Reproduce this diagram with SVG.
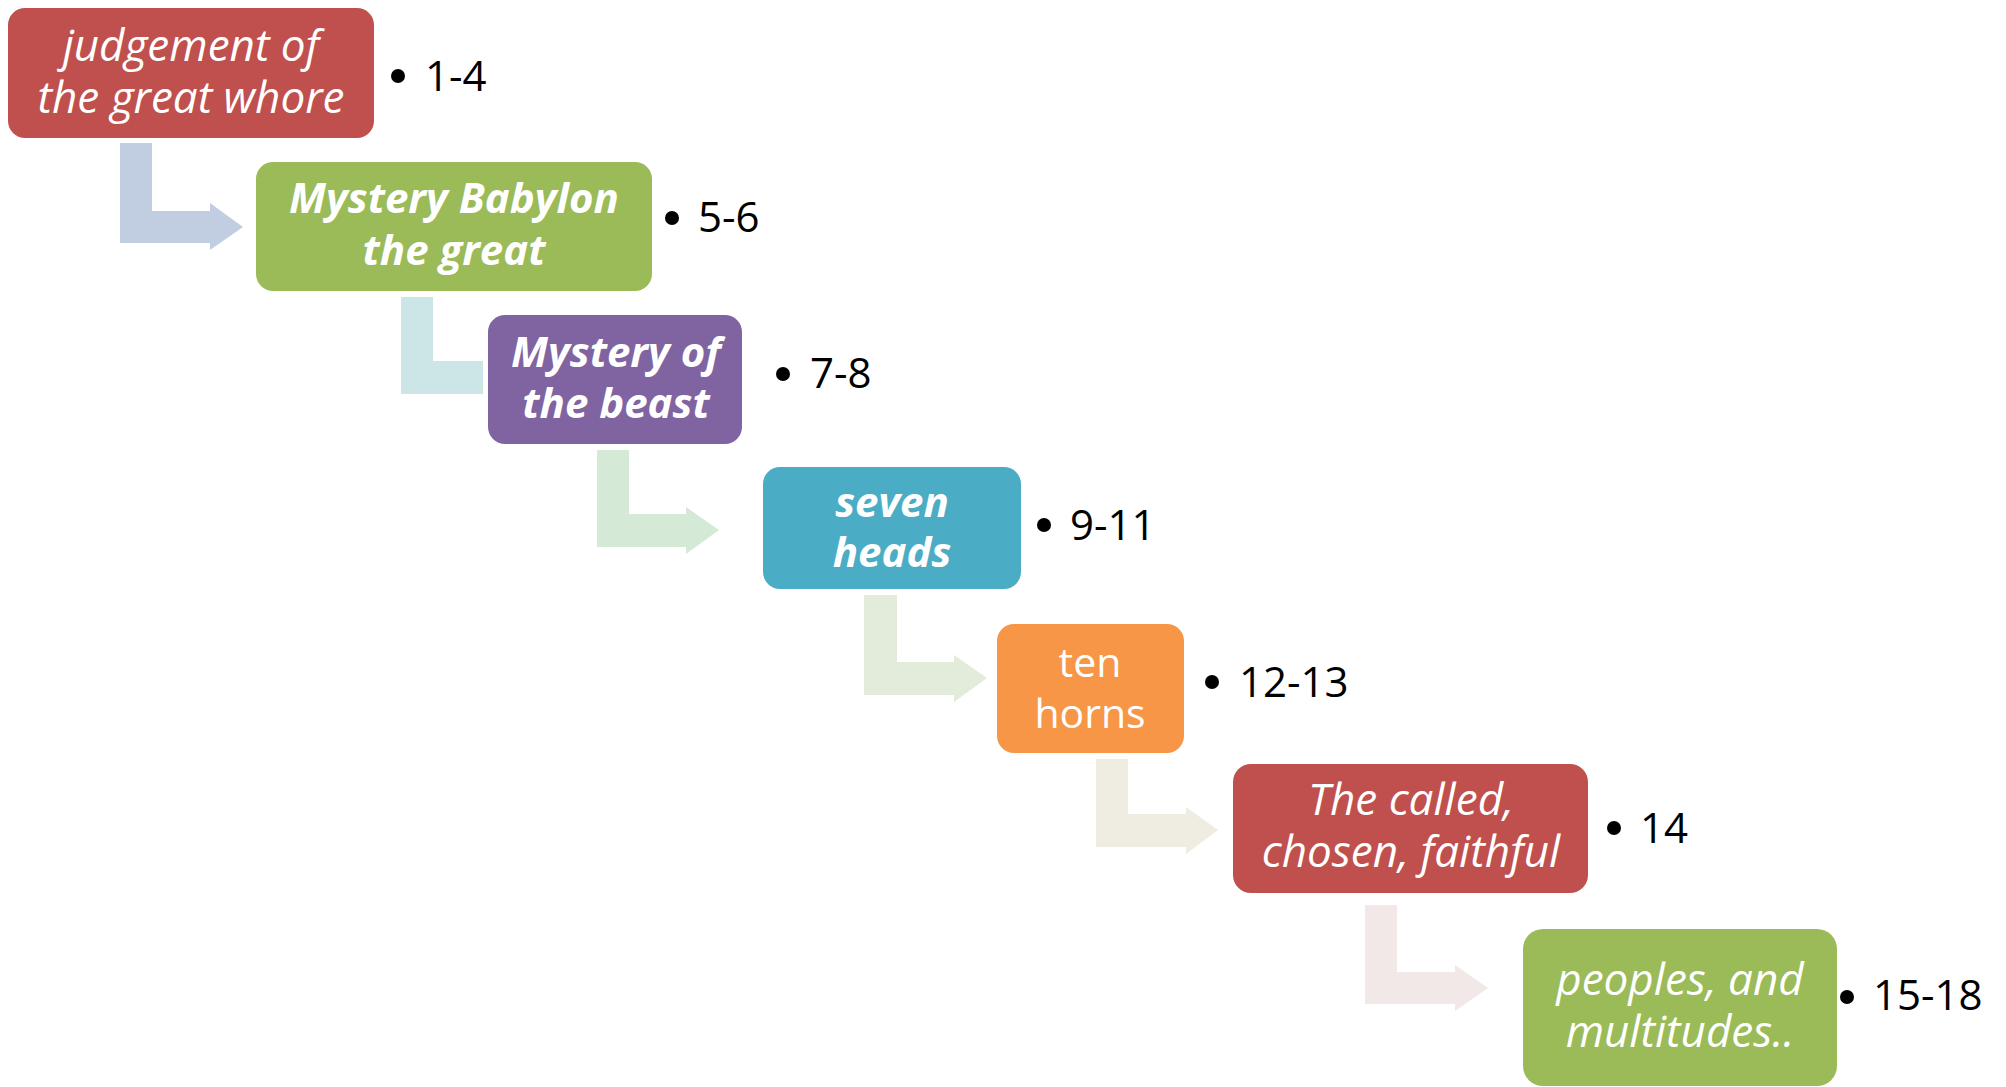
<svg xmlns="http://www.w3.org/2000/svg" width="2006" height="1087" viewBox="0 0 2006 1087">
<style>
.box{stroke:#ffffff;stroke-width:10;paint-order:stroke}
.t{font-family:"Open Sans","Liberation Sans",sans-serif;fill:#ffffff;text-anchor:middle;font-size:41px}
.i{font-style:italic;font-size:44px}
.b{font-weight:bold;font-size:42px}
.n{font-family:"Open Sans","Liberation Sans",sans-serif;fill:#000000;font-size:42px}
.dot{fill:#000000}
</style>
<rect width="2006" height="1087" fill="#ffffff"/>
<g id="connectors">
<polygon fill="#c1cde1" points="120,143 152,143 152,211 210,211 210,203 243,227 210,250 210,243 120,243"/>
<polygon fill="#cce5e6" points="401,297 433,297 433,361 491,361 491,353 524,377 491,401 491,394 401,394"/>
<polygon fill="#d4ead6" points="597,450 629,450 629,514 686,514 686,507 719,530 686,554 686,547 597,547"/>
<polygon fill="#e3ebda" points="864,595 897,595 897,662 954,662 954,655 987,678 954,702 954,695 864,695"/>
<polygon fill="#efece2" points="1096,759 1128,759 1128,814 1186,814 1186,807 1218,830 1186,854 1186,847 1096,847"/>
<polygon fill="#f2e8e8" points="1365,905 1397,905 1397,972 1455,972 1455,965 1488,988 1455,1011 1455,1004 1365,1004"/>
</g>
<g id="node1">
<rect class="box" x="8" y="8" width="366" height="130" rx="17" fill="#c0504d"/>
<text class="t i" x="191" y="61">judgement of</text>
<text class="t i" x="191" y="113">the great whore</text>
<circle class="dot" cx="398" cy="76" r="7"/>
<text class="n" x="425" y="91">1-4</text>
</g>
<g id="node2">
<rect class="box" x="256" y="162" width="396" height="129" rx="17" fill="#9bbb59"/>
<text class="t i b" x="454" y="213">Mystery Babylon</text>
<text class="t i b" x="454" y="265">the great</text>
<circle class="dot" cx="672" cy="218" r="7"/>
<text class="n" x="698" y="232">5-6</text>
</g>
<g id="node3">
<rect class="box" x="488" y="315" width="254" height="129" rx="17" fill="#8064a2"/>
<text class="t i b" x="616" y="367">Mystery of</text>
<text class="t i b" x="616" y="418">the beast</text>
<circle class="dot" cx="783" cy="374" r="7"/>
<text class="n" x="810" y="388">7-8</text>
</g>
<g id="node4">
<rect class="box" x="763" y="467" width="258" height="122" rx="17" fill="#4bacc6"/>
<text class="t i b" x="892" y="517">seven</text>
<text class="t i b" x="892" y="567">heads</text>
<circle class="dot" cx="1044" cy="525" r="7"/>
<text class="n" x="1070" y="540">9-11</text>
</g>
<g id="node5">
<rect class="box" x="997" y="624" width="187" height="129" rx="17" fill="#f79646"/>
<text class="t" x="1090" y="677">ten</text>
<text class="t" x="1090" y="728">horns</text>
<circle class="dot" cx="1212" cy="682" r="7"/>
<text class="n" x="1239" y="697">12-13</text>
</g>
<g id="node6">
<rect class="box" x="1233" y="764" width="355" height="129" rx="18" fill="#c0504d"/>
<text class="t i" x="1411" y="815">The called,</text>
<text class="t i" x="1411" y="867">chosen, faithful</text>
<circle class="dot" cx="1614" cy="828" r="7"/>
<text class="n" x="1640" y="843">14</text>
</g>
<g id="node7">
<rect class="box" x="1523" y="929" width="314" height="157" rx="20" fill="#9bbb59"/>
<text class="t i" x="1680" y="995">peoples, and</text>
<text class="t i" x="1680" y="1047">multitudes..</text>
<circle class="dot" cx="1847" cy="997" r="7"/>
<text class="n" x="1873" y="1010">15-18</text>
</g>
</svg>
